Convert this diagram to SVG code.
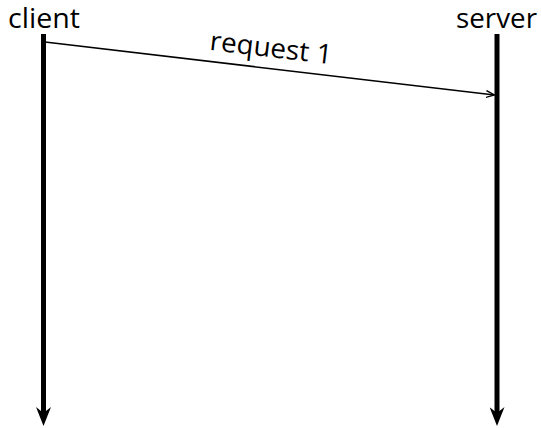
<svg xmlns="http://www.w3.org/2000/svg" width="541" height="428" viewBox="0 0 541 428">
<style>
text{font-family:"Open Sans","DejaVu Sans",sans-serif;fill:#000;font-size:27px}
.life{stroke:#000;stroke-width:5;fill:none}
.msg{stroke:#000;stroke-width:1.5;fill:none}
</style>
<defs>
<marker id="big" viewBox="0 0 19 15" refX="6" refY="7.5" markerWidth="19" markerHeight="15" markerUnits="userSpaceOnUse" orient="auto">
<path d="M0,0 L19,7.5 L0,15 L6,7.5 Z" fill="#000"/>
</marker>
<marker id="open" viewBox="0 0 9 8" refX="8.5" refY="4" markerWidth="9" markerHeight="8" markerUnits="userSpaceOnUse" orient="auto">
<path d="M0,0.5 L8.5,4 L0,7.5" fill="none" stroke="#000" stroke-width="1.4"/>
</marker>
</defs>
<g id="client">
<text x="44" y="27.5" text-anchor="middle" textLength="72" lengthAdjust="spacingAndGlyphs">client</text>
<line class="life" x1="43.5" y1="34" x2="43.5" y2="413" marker-end="url(#big)"/>
</g>
<g id="server">
<text x="496.5" y="27.5" text-anchor="middle" textLength="81" lengthAdjust="spacingAndGlyphs">server</text>
<line class="life" x1="497" y1="34" x2="497" y2="413" marker-end="url(#big)"/>
</g>
<g id="connectors">
<line class="msg" x1="45" y1="42" x2="494.5" y2="95" marker-end="url(#open)"/>
<text text-anchor="middle" transform="translate(270,57) rotate(6.7)" textLength="123" lengthAdjust="spacingAndGlyphs">request 1</text>
</g>
</svg>
